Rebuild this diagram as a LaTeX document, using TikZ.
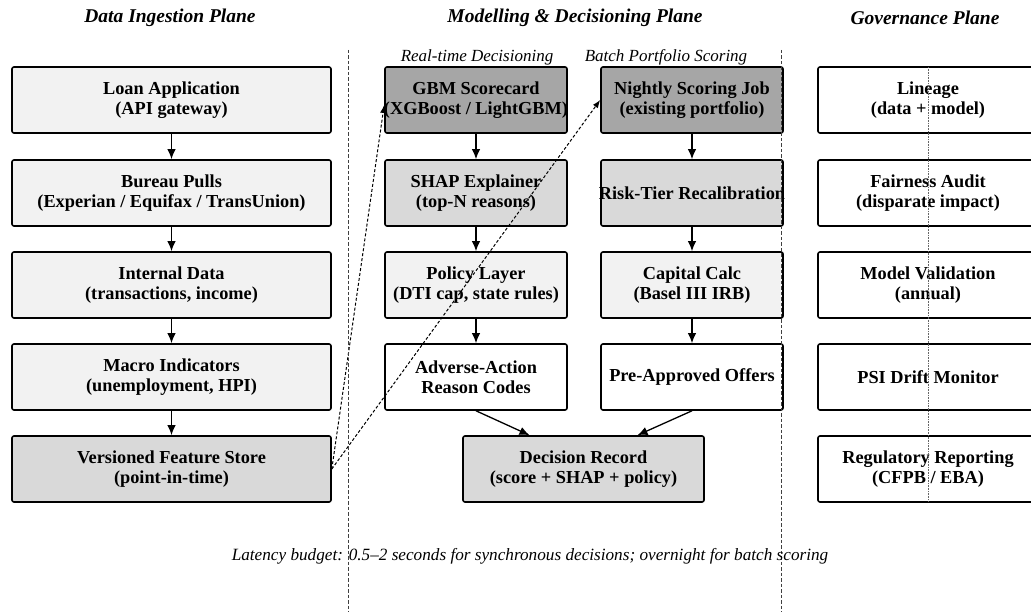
\documentclass[tikz,border=0pt]{standalone}
\usepackage{fontspec}
\setmainfont{Liberation Serif}
\usetikzlibrary{arrows.meta,calc}
\definecolor{gA}{HTML}{F2F2F2}
\definecolor{gB}{HTML}{D9D9D9}
\definecolor{gC}{HTML}{A6A6A6}
\newcommand\bxf{\fontsize{18.3}{20}\selectfont\bfseries}
\newcommand\fitline[1]{\makebox[170pt]{#1}}
\tikzset{
  box/.style={draw, line width=1.6pt, rounded corners=2pt, minimum height=66pt,
    align=center, font=\bxf, inner sep=0pt},
  wide/.style={box, minimum width=319pt},
  mid/.style={box, minimum width=182pt},
  gov/.style={box, minimum width=220pt, fill=white},
  arr/.style={-{Latex[length=10pt,width=8.5pt]}, line width=1.3pt},
  darr/.style={-{Latex[length=8pt,width=6pt]}, line width=1pt, dash pattern=on 3pt off 2pt},
  sep/.style={line width=0.9pt, dash pattern=on 3.5pt off 2pt, black!75},
  title/.style={font=\fontsize{19.5}{22}\selectfont\bfseries\itshape},
  sub/.style={font=\fontsize{17}{20}\selectfont\itshape},
}
\begin{document}
\begin{tikzpicture}[x=1pt,y=-1pt]
\useasboundingbox (0,0) rectangle (1031,612);
\fill[white] (0,0) rectangle (1031,612);

% titles
\node[title] (t1) at (170,18) {Data Ingestion Plane};
\node[title] (t2) at (575,18) {Modelling \& Decisioning Plane};
\node[title] (t3) at (925,18) {Governance Plane};
\node[sub] (s1) at (477,57) {Real-time Decisioning};
\node[sub] (s2) at (666,57) {Batch Portfolio Scoring};

% ingestion column
\node[wide, fill=gA] (loan) at (171.5,100) {Loan Application\\(API gateway)};
\node[wide, fill=gA] (bur) at (171.5,193) {Bureau Pulls\\(Experian / Equifax / TransUnion)};
\node[wide, fill=gA] (int) at (171.5,285) {Internal Data\\(transactions, income)};
\node[wide, fill=gA] (mac) at (171.5,377) {Macro Indicators\\(unemployment, HPI)};
\node[wide, fill=gB] (fs) at (171.5,469) {Versioned Feature Store\\(point-in-time)};

% real-time column
\node[mid, fill=gC] (gbm) at (476,100) {GBM Scorecard\\\fitline{(XGBoost / LightGBM)}};
\node[mid, fill=gB] (shap) at (476,193) {SHAP Explainer\\(top-N reasons)};
\node[mid, fill=gA] (pol) at (476,285) {Policy Layer\\\fitline{(DTI cap, state rules)}};
\node[mid, fill=white] (adv) at (476,377) {Adverse-Action\\Reason Codes};

% batch column
\node[mid, fill=gC] (nsj) at (692,100) {Nightly Scoring Job\\(existing portfolio)};
\node[mid, fill=gB] (rtr) at (692,193) {\fitline{Risk-Tier Recalibration}};
\node[mid, fill=gA] (cap) at (692,285) {Capital Calc\\(Basel III IRB)};
\node[mid, fill=white] (pao) at (692,377) {\fitline{Pre-Approved Offers}};

\node[box, minimum width=241pt, fill=gB] (dec) at (583.5,469) {Decision Record\\(score + SHAP + policy)};

% governance column
\node[gov] (lin) at (928,100) {Lineage\\(data + model)};
\node[gov] (fair) at (928,193) {Fairness Audit\\(disparate impact)};
\node[gov] (mv) at (928,285) {Model Validation\\(annual)};
\node[gov] (psi) at (928,377) {PSI Drift Monitor};
\node[gov] (reg) at (928,469) {Regulatory Reporting\\(CFPB / EBA)};

% solid arrows
\draw[arr] (loan) -- (bur);
\draw[arr] (bur) -- (int);
\draw[arr] (int) -- (mac);
\draw[arr] (mac) -- (fs);
\draw[arr] (gbm) -- (shap);
\draw[arr] (shap) -- (pol);
\draw[arr] (pol) -- (adv);
\draw[arr] (nsj) -- (rtr);
\draw[arr] (rtr) -- (cap);
\draw[arr] (cap) -- (pao);
\draw[arr] (adv.south) -- ($(dec.north)+(-54,0)$);
\draw[arr] (pao.south) -- ($(dec.north)+(54,0)$);

% dashed feature-store links
\draw[darr] (fs.east) -- ($(gbm.west)+(0,5)$);
\draw[darr] (fs.east) -- (nsj.west);

% separators
\draw[sep] (348,50) -- (348,612);
\draw[sep] (781,50) -- (781,612);
\draw[densely dotted, line width=0.6pt, black!60] (928,67) -- (928,502);

% caption
\node[font=\fontsize{17.2}{20}\selectfont\itshape] (cap1) at (530,556)
  {Latency budget: 0.5--2 seconds for synchronous decisions; overnight for batch scoring};
\end{tikzpicture}
\end{document}
